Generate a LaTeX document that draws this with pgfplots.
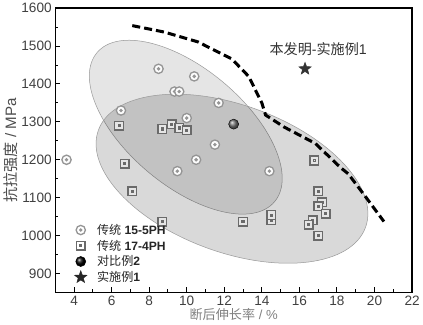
\documentclass[border=0pt]{standalone}
\usepackage{pgfplots}
\pgfplotsset{compat=1.18}
\usepackage{fontspec}
\setmainfont{Liberation Sans}
\newfontfamily\cjk{Noto Sans CJK SC}

\pgfdeclareplotmark{odot}{%
  \pgfpathcircle{\pgfpointorigin}{\pgfplotmarksize}%
  \pgfusepathqfillstroke
  \pgfpathcircle{\pgfpointorigin}{0.22*\pgfplotmarksize}%
  \pgfusepathqstroke}
\pgfdeclareplotmark{sdot}{%
  \pgfpathrectangle{\pgfpoint{-\pgfplotmarksize}{-\pgfplotmarksize}}{\pgfpoint{2*\pgfplotmarksize}{2*\pgfplotmarksize}}%
  \pgfusepathqfillstroke
  \pgfpathrectangle{\pgfpoint{-0.2*\pgfplotmarksize}{-0.2*\pgfplotmarksize}}{\pgfpoint{0.4*\pgfplotmarksize}{0.4*\pgfplotmarksize}}%
  \pgfusepathqstroke}
\pgfdeclareplotmark{fstar}{%
  \pgfpathmoveto{\pgfpointpolar{90}{\pgfplotmarksize}}%
  \pgfpathlineto{\pgfpointpolar{126}{0.42*\pgfplotmarksize}}%
  \pgfpathlineto{\pgfpointpolar{162}{\pgfplotmarksize}}%
  \pgfpathlineto{\pgfpointpolar{198}{0.42*\pgfplotmarksize}}%
  \pgfpathlineto{\pgfpointpolar{234}{\pgfplotmarksize}}%
  \pgfpathlineto{\pgfpointpolar{270}{0.42*\pgfplotmarksize}}%
  \pgfpathlineto{\pgfpointpolar{306}{\pgfplotmarksize}}%
  \pgfpathlineto{\pgfpointpolar{342}{0.42*\pgfplotmarksize}}%
  \pgfpathlineto{\pgfpointpolar{18}{\pgfplotmarksize}}%
  \pgfpathlineto{\pgfpointpolar{54}{0.42*\pgfplotmarksize}}%
  \pgfpathclose
  \pgfusepathqfillstroke}

\definecolor{circc}{HTML}{959595}
\definecolor{sqc}{HTML}{6A6A6A}

\begin{document}
\begin{tikzpicture}
\begin{axis}[
  scale only axis,
  width=354pt, height=282pt,
  xmin=3, xmax=22, ymin=850, ymax=1600,
  xtick={4,6,...,22}, ytick={900,1000,...,1600},
  minor x tick num=1, minor y tick num=1,
  xtick pos=left, ytick pos=left,
  tick align=inside,
  major tick length=5pt, minor tick length=3pt,
  tick style={black, line width=1pt},
  axis line style={black, line width=1.4pt},
  /pgf/number format/assume math mode=true,
  /pgf/number format/1000 sep={},
  tick label style={font=\fontsize{13.5}{15}\selectfont, text=black!75},
  xlabel={{\cjk 断后伸长率} / \%},
  ylabel={{\cjk 抗拉强度} / MPa},
  xlabel style={font=\fontsize{13}{15}\selectfont, text=black!50, yshift=4pt},
  ylabel style={font=\fontsize{15}{17}\selectfont, text=black!70, yshift=-3pt},
  axis background/.style={fill=white},
  legend style={draw=none, fill=none, at={(0.045,0.255)}, anchor=north west,
    font=\fontsize{12}{14}\selectfont, row sep=0pt, text=black!85},
  legend cell align=left,
  clip=false,
]
% ellipses
\fill[black, opacity=0.10] (axis cs:9.95,1286) ellipse [x radius=115pt, y radius=58pt, rotate=-40];
\draw[black!40, line width=0.5pt] (axis cs:9.95,1286) ellipse [x radius=115pt, y radius=58pt, rotate=-40];
\fill[black, opacity=0.15] (axis cs:12.41,1150) ellipse [x radius=141pt, y radius=73pt, rotate=-20];
\draw[black!40, line width=0.5pt] (axis cs:12.41,1150) ellipse [x radius=141pt, y radius=73pt, rotate=-20];

% dashed boundary
\addplot[black, line width=3pt, dash pattern=on 8pt off 4pt, forget plot] coordinates {
 (7.1,1554) (8.8,1537) (10.6,1511) (12.4,1466) (13.3,1420) (14.0,1350) (14.2,1318)
 (15.2,1286) (16.85,1243) (18.2,1179) (18.6,1163) (19.5,1104) (20.5,1037)};

% 15-5PH
\addplot[only marks, mark=odot, mark size=4.6pt, draw=circc, fill=white!70!circc!10, line width=1.3pt, forget plot] coordinates {
 (3.6,1200) (8.5,1440) (10.4,1420) (9.35,1380) (9.6,1380) (6.5,1330) (11.7,1350)
 (10.0,1310) (11.5,1240) (10.5,1200) (9.5,1170) (14.4,1170)};
% 17-4PH
\addplot[only marks, mark=sdot, mark size=4.3pt, draw=sqc, fill=black!10, line width=1.4pt, forget plot] coordinates {
 (6.4,1290) (8.7,1281) (9.2,1294) (9.6,1284) (10.0,1278) (6.7,1190) (7.1,1117)
 (8.7,1037) (16.8,1198) (13.0,1037) (14.5,1040) (14.5,1054) (17.0,1117) (17.2,1088)
 (17.0,1077) (17.4,1058) (16.7,1040) (16.5,1029) (17.0,1000)};
% comparative example 2
\addplot[only marks, mark=ball, mark size=5pt, mark options={ball color=black!55}, forget plot] coordinates {(12.5,1294)};
% example 1
\addplot[only marks, mark=fstar, mark size=6.5pt, draw=black!80, fill=black!80, forget plot] coordinates {(16.3,1440)};

\node[font=\fontsize{14}{16}\selectfont, text=black!80] at (axis cs:17.0,1493) {{\cjk 本发明}-{\cjk 实施例}1};

% legend
\addlegendimage{only marks, mark=odot, mark size=4.6pt, draw=circc, fill=white, line width=1.3pt}
\addlegendentry{\hspace{8pt}{\cjk 传统} \textbf{15-5PH}}
\addlegendimage{only marks, mark=sdot, mark size=4.3pt, draw=sqc, fill=white, line width=1.4pt}
\addlegendentry{\hspace{8pt}{\cjk 传统} \textbf{17-4PH}}
\addlegendimage{only marks, mark=ball, mark size=5pt, mark options={ball color=black}}
\addlegendentry{\hspace{8pt}{\cjk 对比例}\textbf{2}}
\addlegendimage{only marks, mark=fstar, mark size=6.5pt, draw=black!85, fill=black!85}
\addlegendentry{\hspace{8pt}{\cjk 实施例}\textbf{1}}
\end{axis}
\end{tikzpicture}
\end{document}
